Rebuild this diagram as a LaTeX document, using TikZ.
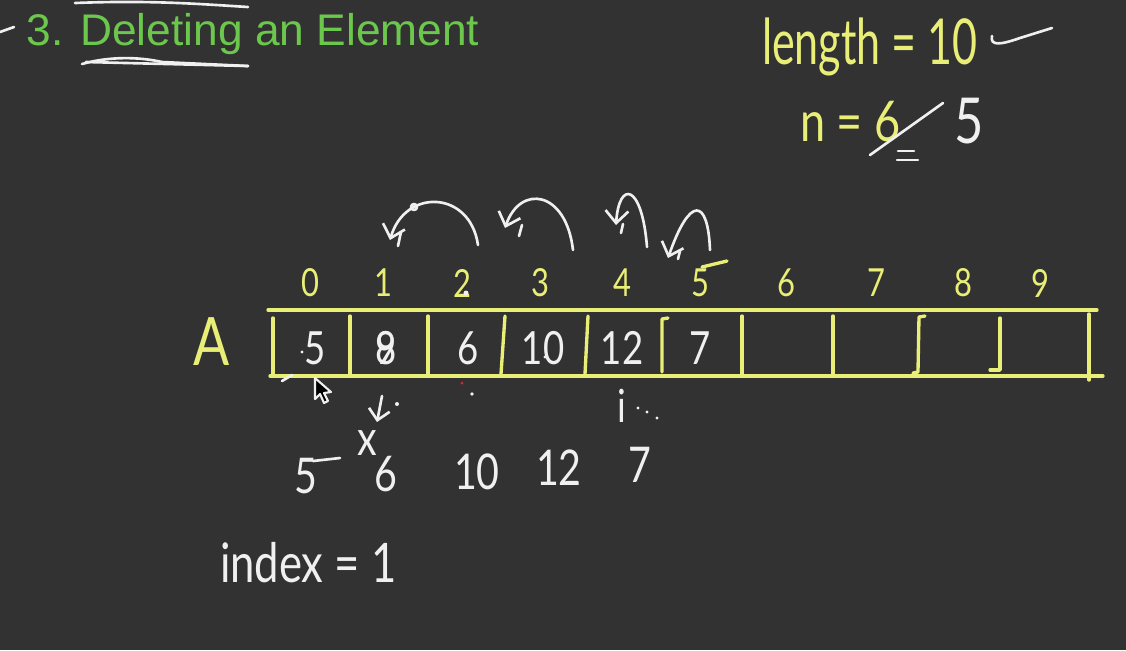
\documentclass[tikz,border=0pt]{standalone}
\usepackage{fontspec}
\setmainfont{Liberation Sans}
\newfontfamily\handfont[FakeStretch=0.8]{Lato}
\newfontfamily\handnarrow[FakeStretch=0.68]{Lato}
\usetikzlibrary{arrows.meta, positioning, calc}

\definecolor{board}{RGB}{50,50,50}
\definecolor{chalkyellow}{RGB}{232,238,118}
\definecolor{titlegreen}{RGB}{108,200,76}
\definecolor{chalkwhite}{RGB}{240,240,240}
\definecolor{laserred}{RGB}{220,40,40}

\newcommand{\handsize}[1]{\handfont\fontsize{#1}{#1}\selectfont}

\begin{document}
\begin{tikzpicture}[
    x=0.01cm, y=-0.01cm,
    every node/.style={inner sep=0pt, outer sep=0pt},
    ywrite/.style={text=chalkyellow},
    wwrite/.style={text=chalkwhite},
    yline/.style={draw=chalkyellow, line width=0.95pt, line cap=round, line join=round},
    wline/.style={draw=chalkwhite, line width=0.75pt, line cap=round, line join=round},
    jump/.style={wline, -{Straight Barb[length=3.5pt, width=6.5pt]}}
]
\fill[board] (0,0) rectangle (1126,650);
\useasboundingbox (0,0) rectangle (1126,650);

% Title with its pen marks
\node[anchor=base west, text=titlegreen, font=\fontsize{12.6}{15}\selectfont] (title) at (27,45) {3. Deleting an Element};
\draw[wline] (0,32) -- (14,27);
\draw[wline] (75,3) .. controls (150,0) and (200,4) .. (248,7);
\draw[wline] (82,64) .. controls (110,56) and (140,57) .. (162,62) -- (248,66);
\draw[wline] (86,62) -- (248,66);

% Sizes written at the top right
\node[ywrite, anchor=base west, font=\handnarrow\fontsize{18}{18}\selectfont] (len) at (762,64) {length = 10};
\draw[wline] (992,36) .. controls (990,46) and (1000,45) .. (1020,38) -- (1052,28);
\node[ywrite, anchor=base west, font=\handsize{16}] (nval) at (800,141) {n = 6};
\node[wwrite, anchor=base west, font=\handsize{18}] (nnew) at (955,143) {5};
\draw[wline] (870,155) -- (943,103);
\draw[wline] (898,151) -- (914,151);
\draw[wline] (897,160) -- (918,160);

% Indices above the array
\foreach \i/\x in {0/310,1/383,2/462,3/540,4/622,5/700,6/786,7/876,8/963,9/1040}
    \node[ywrite, font=\handsize{11}] (idx\i) at (\x,283) {\i};
\draw[yline] (702,267) -- (727,261);
\fill[chalkwhite] (466,293) circle (2.5);

% Array A
\node[ywrite, font=\handsize{19}] (arrA) at (212,342) {A};
\draw[yline] (268,310) -- (1097,310);
\draw[yline] (270,376) -- (1103,376);
\draw[yline] (273,318) -- (273,374);
\foreach \x in {350,428,742,833}
    \draw[yline] (\x,316) -- (\x,374);
\draw[yline] (505,316) -- (501,374);
\draw[yline] (588,316) -- (585,374);
\draw[yline] (668,318) -- (662,319) -- (662,372);
\draw[yline] (925,316) -- (919,317) -- (918,372) -- (913,373);
\draw[yline] (1000,318) -- (1000,370) -- (990,370);
\draw[yline] (1089,314) -- (1089,380);
\draw[wline] (282,381) -- (292,375);

% Values in the cells
\foreach \v/\x [count=\k] in {5/315,6/468,10/543,12/622,7/700}
    \node[wwrite, font=\handsize{13}] (cell\k) at (\x,348) {\v};
\node[wwrite, font=\handsize{13}] (celldel) at (386,348) {8};
\node[wwrite, font=\handsize{13}] (celldelb) at (386,348) {9};
\fill[chalkwhite] (302,352) circle (1.6) (311,362) circle (1.6) (469,362) circle (1.6) (545,357) circle (1.6);

% Shifting jumps
\draw[jump] (478,245) .. controls (470,190) and (405,188) .. (390,240);
\draw[jump] (573,250) .. controls (566,190) and (520,184) .. (505,228);
\draw[jump] (647,247) .. controls (642,183) and (619,180) .. (616,225);
\draw[jump] (710,250) .. controls (708,198) and (690,195) .. (668,258);
\draw[wline] (401,232) -- (398,246);
\draw[wline] (522,225) -- (519,236);
\draw[wline] (623,224) -- (621,233);
\draw[wline] (680,251) -- (678,259);
\draw[wline] (414,207) circle (3);

% Mouse pointer
\draw[chalkwhite, fill=black, line width=0.6pt, line join=round]
    (315,378) -- (315,399) -- (320,394) -- (324,403) -- (328,401) -- (324,393) -- (331,392) -- cycle;

% Row after deleting
\draw[wline, -{Straight Barb[length=3pt, width=6pt]}] (382,396) -- (377,422);
\fill[chalkwhite] (397,404) circle (2);
\node[wwrite, font=\handsize{14}] (cross) at (367,443) {x};
\foreach \v/\x/\y [count=\k] in {5/306/476,6/386/474,10/477/472,12/559/468,7/640/465}
    \node[wwrite, font=\handsize{14}] (after\k) at (\x,\y) {\v};
\draw[wline] (313,461) -- (340,458);
\node[wwrite, font=\handsize{13}] (ptr) at (622,406) {i};
\fill[chalkwhite] (638,408) circle (1.6) (647,412) circle (1.6) (657,418) circle (1.6);
\fill[chalkwhite] (472,394) circle (1.8);
\fill[laserred] (462,383) circle (1.5);

% Remembered index
\node[wwrite, anchor=base west, font=\handsize{15.5}] (index) at (220,582) {index = 1};
\end{tikzpicture}
\end{document}
